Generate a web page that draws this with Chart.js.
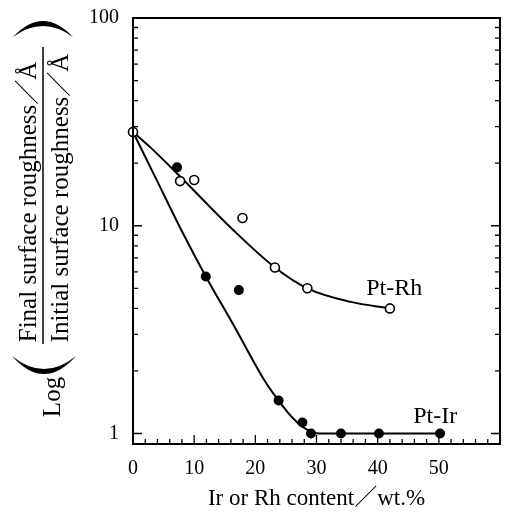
<!DOCTYPE html>
<html>
<head>
<meta charset="utf-8">
<script src="https://cdn.jsdelivr.net/npm/chart.js@4/dist/chart.umd.min.js"></script>
<style>
  html, body { margin: 0; padding: 0; background: #fff; }
  #wrap { width: 507px; height: 516px; }
</style>
</head>
<body>
<div id="wrap"><canvas id="roughnessChart"></canvas></div>
<script>
// measured points, wt.% vs roughness ratio
const rhContent = [0, 7.7, 10, 17.9, 23.2, 28.5, 42];
const rhRatio = [28.3, 16.4, 16.6, 10.9, 6.3, 5.0, 4.0];
const irContent = [7.2, 11.9, 17.3, 23.8, 27.7, 29.1, 34, 40.2, 50.2];
const irRatio = [19.1, 5.7, 4.9, 1.44, 1.13, 1.0, 1.0, 1.0, 1.0];

// hand-fitted trend lines
const rhFitContent = [0, 2.8, 7.5, 16.6, 23.2, 28.5, 35.6, 42];
const rhFitRatio = [28.3, 23.9, 17.5, 9.4, 6.3, 5.0, 4.3, 4.0];
const irFitContent = [0, 4, 8, 11.9, 16.5, 21.4, 23.8, 26.2, 28.3, 30.5, 50.2];
const irFitRatio = [28.3, 16.3, 9.4, 5.7, 3.3, 1.82, 1.44, 1.18, 1.05, 1.0, 1.0];

const xTicks = [0, 2, 4, 6, 8, 10, 12, 14, 16, 18, 20, 22, 24, 26, 28, 30,
  32, 34, 36, 38, 40, 42, 44, 46, 48, 50, 52, 54, 56, 58, 60];
const xLabelled = [0, 10, 20, 30, 40, 50];
const yTicks = [1, 2, 3, 4, 5, 6, 7, 8, 9, 10, 20, 30, 40, 50, 60, 70, 80, 90, 100];
const yLabelled = [1, 10, 100];

const seriesNames = ["Pt-Rh", "Pt-Ir"];
const nameAnchors = [[42.7, 5.0], [49.4, 1.2]];

const serif = "'Liberation Serif', 'Times New Roman', 'Noto Sans CJK JP', serif";

function toPoints(xs, ys) {
  return xs.map((x, i) => ({ x, y: ys[i] }));
}

const frame = {
  id: "frame",
  afterDatasetsDraw(chart) {
    const { ctx, chartArea: area, scales } = chart;
    const x = scales.x;
    const y = scales.y;

    ctx.save();
    ctx.strokeStyle = "#000";
    ctx.lineWidth = 2;
    ctx.strokeRect(area.left, area.top, area.right - area.left, area.bottom - area.top);

    ctx.lineWidth = 1.3;
    ctx.beginPath();
    xTicks.forEach((v) => {
      const px = x.getPixelForValue(v);
      const len = v % 10 === 0 ? 9 : 5;
      ctx.moveTo(px, area.bottom);
      ctx.lineTo(px, area.bottom - len);
    });
    yTicks.forEach((v) => {
      const py = y.getPixelForValue(v);
      const len = yLabelled.includes(v) ? 9 : 5;
      ctx.moveTo(area.left, py);
      ctx.lineTo(area.left + len, py);
      ctx.moveTo(area.right, py);
      ctx.lineTo(area.right - len, py);
    });
    ctx.stroke();

    ctx.fillStyle = "#000";
    ctx.font = `24px ${serif}`;
    ctx.textAlign = "center";
    ctx.textBaseline = "middle";
    seriesNames.forEach((name, i) => {
      const [vx, vy] = nameAnchors[i];
      ctx.fillText(name, x.getPixelForValue(vx), y.getPixelForValue(vy));
    });
    ctx.restore();
  },
};

// rotated fraction title on the left
const ratioTitle = {
  id: "ratioTitle",
  afterDraw(chart) {
    const { ctx } = chart;
    ctx.save();
    ctx.fillStyle = "#000";
    ctx.font = `25px ${serif}`;
    ctx.textAlign = "center";
    ctx.textBaseline = "alphabetic";

    const rotated = (text, bx, cy) => {
      ctx.save();
      ctx.translate(bx, cy);
      ctx.rotate(-Math.PI / 2);
      ctx.fillText(text, 0, 0);
      ctx.restore();
    };
    rotated("Final surface roughness／Å", 36, 202);
    rotated("Initial surface roughness／Å", 68, 198);
    rotated("Log", 60, 397);

    ctx.strokeStyle = "#000";
    ctx.lineWidth = 1.5;
    ctx.beginPath();
    ctx.moveTo(43, 47);
    ctx.lineTo(43, 344);
    ctx.stroke();

    // big brackets, lying on their side
    ctx.beginPath();
    ctx.moveTo(13, 37);
    ctx.quadraticCurveTo(43, 5, 73, 37);
    ctx.quadraticCurveTo(43, 15, 13, 37);
    ctx.fill();

    ctx.beginPath();
    ctx.moveTo(12, 356);
    ctx.quadraticCurveTo(44, 392, 76, 356);
    ctx.quadraticCurveTo(44, 382, 12, 356);
    ctx.fill();
    ctx.restore();
  },
};

new Chart(document.querySelector("#roughnessChart"), {
  type: "scatter",
  data: {
    datasets: [
      {
        label: "Pt-Rh",
        data: toPoints(rhContent, rhRatio),
        pointRadius: 4.5,
        pointBorderWidth: 1.6,
        pointBackgroundColor: "#fff",
        pointBorderColor: "#000",
        clip: false,
        order: 0,
      },
      {
        label: "Pt-Ir",
        data: toPoints(irContent, irRatio),
        pointRadius: 5,
        pointBorderWidth: 0,
        pointBackgroundColor: "#000",
        pointBorderColor: "#000",
        clip: false,
        order: 1,
      },
      {
        label: "Pt-Rh fit",
        data: toPoints(rhFitContent, rhFitRatio),
        showLine: true,
        cubicInterpolationMode: "monotone",
        borderColor: "#000",
        borderWidth: 2,
        pointRadius: 0,
        order: 2,
      },
      {
        label: "Pt-Ir fit",
        data: toPoints(irFitContent, irFitRatio),
        showLine: true,
        cubicInterpolationMode: "monotone",
        borderColor: "#000",
        borderWidth: 2,
        pointRadius: 0,
        order: 2,
      },
    ],
  },
  options: {
    responsive: true,
    maintainAspectRatio: false,
    animation: false,
    layout: { padding: { left: 0, top: 13, right: 7, bottom: 0 } },
    plugins: {
      legend: { display: false },
      tooltip: { enabled: false },
    },
    scales: {
      x: {
        type: "linear",
        min: 0,
        max: 60,
        afterBuildTicks: (scale) => {
          scale.ticks = xTicks.map((value) => ({ value }));
        },
        afterFit: (scale) => {
          scale.height = 72;
        },
        grid: { display: false },
        border: { display: true, color: "#000", width: 2 },
        ticks: {
          autoSkip: false,
          maxRotation: 0,
          padding: 5,
          color: "#000",
          font: { family: serif, size: 20 },
          callback: (value) => (xLabelled.includes(value) ? String(value) : ""),
        },
        title: {
          display: true,
          text: "Ir or Rh content／wt.%",
          color: "#000",
          font: { family: serif, size: 23 },
          padding: { top: 0, bottom: 3 },
        },
      },
      y: {
        type: "logarithmic",
        min: 0.89,
        max: 100,
        afterBuildTicks: (scale) => {
          scale.ticks = yTicks.map((value) => ({ value }));
        },
        afterFit: (scale) => {
          scale.width = 133;
        },
        grid: { display: false },
        border: { display: true, color: "#000", width: 2 },
        ticks: {
          autoSkip: false,
          padding: 6,
          color: "#000",
          font: { family: serif, size: 20 },
          callback: (value) => (yLabelled.includes(value) ? String(value) : ""),
        },
      },
    },
  },
  plugins: [frame, ratioTitle],
});
</script>
</body>
</html>
